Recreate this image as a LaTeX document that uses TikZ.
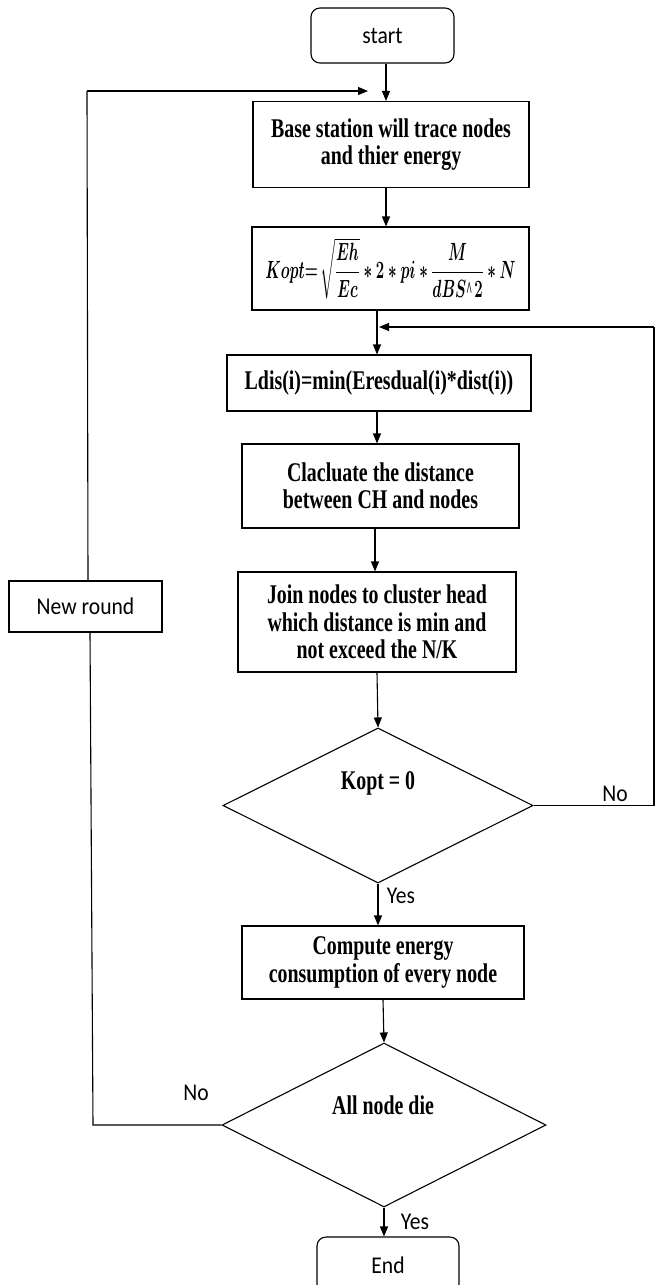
\documentclass[tikz,border=0pt]{standalone}
\usepackage{fontspec}
\usepackage{amsmath}
\usepackage{bm}
\usepackage{graphicx}
\setmainfont{Liberation Serif}[FakeStretch=0.737]
\newfontfamily\lblfont{Carlito}[FakeStretch=0.9]
\usetikzlibrary{shapes.geometric,arrows.meta}
\tikzset{
  txtfont/.style={font=\fontsize{27}{27.5}\selectfont\bfseries},
  box/.style={draw, line width=1.1pt, rectangle, inner sep=0pt, align=center, txtfont},
  term/.style={draw, line width=1.1pt, rectangle, rounded corners=9pt, inner sep=0pt,
    font=\fontsize{24}{26}\lblfont},
  dec/.style={draw, line width=1.1pt, diamond, inner sep=0pt},
  lbl/.style={inner sep=0pt, font=\fontsize{24}{26}\lblfont},
  flow/.style={line width=1.1pt, -{Triangle[length=10pt,width=8pt]}},
  wire/.style={line width=1.1pt}
}
\begin{document}
\begin{tikzpicture}[x=1pt,y=-1pt]
\useasboundingbox (0,0) rectangle (656,1285);
\begin{scope}
\clip (0,0) rectangle (656,1285);
\node[term, minimum width=143pt, minimum height=55pt] (start) at (382.5,35.5) {start};
\node[box, minimum width=276pt, minimum height=86pt] (b1) at (391,144.5) {Base station will trace nodes\\and thier energy};
\node[box, minimum width=277pt, minimum height=83pt] (b2) at (390.5,268.5) {\scalebox{0.6}[1]{\fontsize{23}{26}\selectfont\boldmath$\bm{Kopt}{=}\ \sqrt{\dfrac{\bm{Eh}}{\bm{Ec}}}\ast \bm{2}\ast \bm{pi}\ast\dfrac{\bm{M}}{\bm{dBS}\char`^\bm{2}}\ast \bm{N}$}};
\node[box, minimum width=304pt, minimum height=56pt] (b3) at (379,383) {Ldis(i)=min(Eresdual(i)*dist(i))};
\node[box, minimum width=277pt, minimum height=84pt] (b4) at (380.5,486) {Clacluate the distance\\between CH and nodes};
\node[box, minimum width=278pt, minimum height=100pt] (b5) at (377,622) {Join nodes to cluster head\\which distance is min and\\not exceed the N/K};
\node[dec, minimum width=310pt, minimum height=155pt] (d1) at (378,805.5) {};
\node[txtfont, inner sep=0pt] (d1t) at (378,783) {Kopt = 0};
\node[box, minimum width=282pt, minimum height=73pt] (b6) at (383,962.5) {Compute energy\\consumption of every node};
\node[dec, minimum width=324pt, minimum height=164pt] (d2) at (384,1125) {};
\node[txtfont, inner sep=0pt] (d2t) at (383,1105) {All node die};
\node[box, font=\fontsize{24}{26}\lblfont, minimum width=153pt, minimum height=51pt] (nr) at (85.5,606.5) {New round};
\node[term, minimum width=142pt, minimum height=56pt] (end) at (388,1265) {End};

\node[lbl] (no1) at (615,794) {No};
\node[lbl] (yes1) at (401,896) {Yes};
\node[lbl] (no2) at (196,1093) {No};
\node[lbl] (yes2) at (415,1222) {Yes};

\coordinate (r1) at (654,805.5);
\coordinate (r2) at (654,327);
\coordinate (l1) at (93,1125);
\coordinate (l2) at (87,91);
\end{scope}

\draw[flow] (start.south -| 386,0) -- (b1.north -| 386,0);
\draw[flow] (b1.south -| 386,0) -- (b2.north -| 386,0);
\draw[flow] (b2.south -| 377,0) -- (b3.north -| 377,0);
\draw[flow] (b3.south -| 377,0) -- (b4.north -| 377,0);
\draw[flow] (b4.south -| 375,0) -- (b5.north -| 375,0);
\draw[flow] (b5.south -| 377,0) -- (d1.north);
\draw[flow] (d1.south) -- (b6.north -| d1.south);
\draw[flow] (b6.south -| 383,0) -- (d2.north);
\draw[flow] (d2.south) -- (end.north -| d2.south);
\draw[wire] (d1.east) -- (r1) -- (r2);
\draw[flow] (r2) -- (379,327);
\draw[wire] (d2.west) -- (l1) -- (nr.south -| 90,0);
\draw[wire] (nr.north -| 88,0) -- (l2);
\draw[flow] (l2) -- (368,91);
\end{tikzpicture}
\end{document}
